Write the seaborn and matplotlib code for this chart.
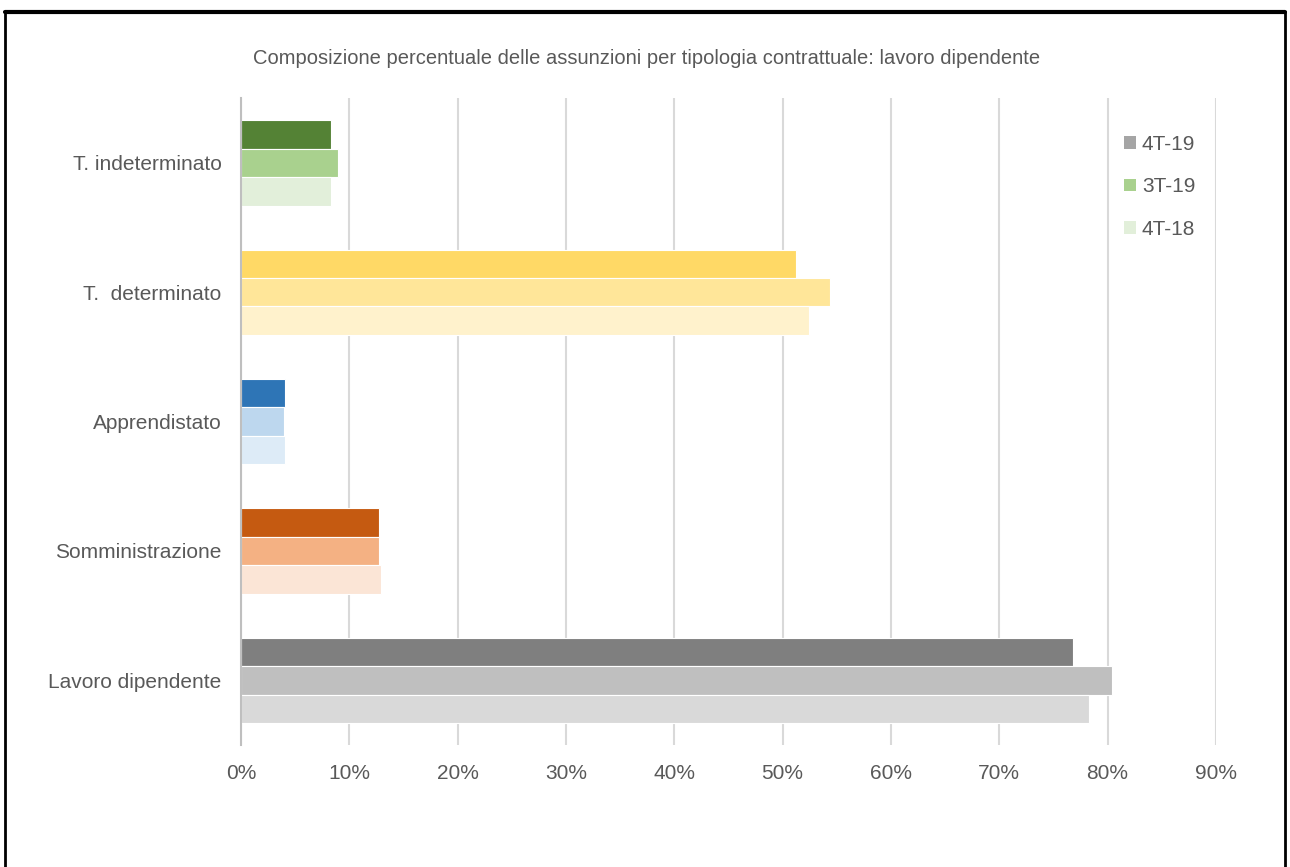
import matplotlib
matplotlib.use("Agg")
import matplotlib.pyplot as plt
import seaborn as sns
import pandas as pd
from matplotlib.lines import Line2D
from matplotlib.patches import Patch
from matplotlib.ticker import FuncFormatter

# --- dati ---
categories = ["T. indeterminato", "T.  determinato", "Apprendistato",
              "Somministrazione", "Lavoro dipendente"]
periods = ["4T-19", "3T-19", "4T-18"]
val_4t19 = [8.3, 51.2, 4.1, 12.7, 76.8]
val_3t19 = [9.0, 54.4, 4.0, 12.7, 80.4]
val_4t18 = [8.3, 52.4, 4.1, 12.9, 78.3]

# colori per categoria (scuro, medio, chiaro)
CAT_COLORS = {
    "T. indeterminato": ["#548235", "#A9D18E", "#E2EFDA"],
    "T.  determinato": ["#FFD966", "#FFE699", "#FFF2CC"],
    "Apprendistato": ["#2E75B6", "#BDD7EE", "#DDEBF7"],
    "Somministrazione": ["#C55A11", "#F4B183", "#FBE5D6"],
    "Lavoro dipendente": ["#7F7F7F", "#BFBFBF", "#D9D9D9"],
}
LEGEND_COLORS = ["#A5A5A5", "#A9D18E", "#E2EFDA"]
TEXT = "#595959"

df = pd.DataFrame({
    "categoria": categories * 3,
    "periodo": [p for p in periods for _ in categories],
    "valore": val_4t19 + val_3t19 + val_4t18,
})

sns.set_style("white")
plt.rcParams["font.family"] = ["Liberation Sans", "DejaVu Sans"]

fig = plt.figure(figsize=(12.9, 8.67), dpi=100)
ax = fig.add_axes([0.1868, 0.1407, 0.7558, 0.746])

sns.barplot(data=df, y="categoria", x="valore", hue="periodo",
            order=categories, hue_order=periods, orient="h",
            width=0.66, ax=ax, legend=False, saturation=1)

for i, cont in enumerate(ax.containers):
    for cat, bar in zip(categories, cont):
        bar.set_facecolor(CAT_COLORS[cat][i])
        bar.set_edgecolor("white")
        bar.set_linewidth(0.8)

ax.set_xlim(0, 90)
ax.set_ylim(4.5, -0.5)
ax.set_xticks(range(0, 91, 10))
ax.xaxis.set_major_formatter(FuncFormatter(lambda v, _: f"{v:.0f}%"))
ax.grid(axis="x", color="#D9D9D9", linewidth=1.5)
ax.set_axisbelow(True)
for s in ["top", "right", "bottom"]:
    ax.spines[s].set_visible(False)
ax.spines["left"].set_color("#BFBFBF")
ax.spines["left"].set_linewidth(1.5)
ax.tick_params(axis="both", length=0, labelsize=15, colors=TEXT)
ax.tick_params(axis="x", pad=14)
ax.tick_params(axis="y", pad=14)
ax.set_xlabel("")
ax.set_ylabel("")

fig.text(0.5015, 0.933, "Composizione percentuale delle assunzioni per tipologia contrattuale: lavoro dipendente",
         ha="center", va="center", fontsize=14.5, color=TEXT)

handles = [Patch(facecolor=c, edgecolor="none") for c in LEGEND_COLORS]
leg = ax.legend(handles, periods, loc="upper right", bbox_to_anchor=(0.998, 0.972),
                frameon=False, fontsize=15, labelspacing=1.12,
                handlelength=0.55, handleheight=0.55, handletextpad=0.3,
                labelcolor=TEXT)

# cornice
fig.add_artist(Line2D([0.004, 0.996], [0.986, 0.986], color="black", lw=3, transform=fig.transFigure))
fig.add_artist(Line2D([0.004, 0.004], [0.986, 0.0], color="black", lw=2, transform=fig.transFigure))
fig.add_artist(Line2D([0.996, 0.996], [0.986, 0.0], color="black", lw=2, transform=fig.transFigure))

fig.savefig("out.png", dpi=100)
